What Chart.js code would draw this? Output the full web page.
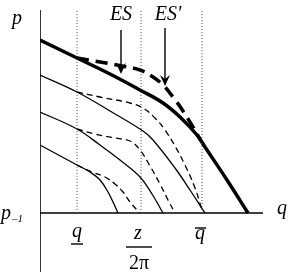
<!DOCTYPE html>
<html>
<head>
<meta charset="utf-8">
<script src="https://cdn.jsdelivr.net/npm/chart.js@4.4.1/dist/chart.umd.min.js"></script>
<style>
	html, body { margin: 0; padding: 0; background: #fff; }
	#box { width: 296px; height: 276px; }
</style>
</head>
<body>
<div id="box"><canvas id="grafico"></canvas></div>
<script>
// eixos (unidades do grafico)
var x_min = 0, x_max = 11.15;
var y_min = -2.95, y_max = 10.15;

// marcas no eixo q: q_, z/2pi, q barra
var marcas_q = [1.85, 5.05, 8.1];

// curva grossa ES e tracejada ES'
var curva_ES = [[0, 8.65], [1.85, 7.75], [3.5, 6.95], [5.0, 6.15], [6.15, 5.5], [7.0, 4.8], [7.85, 3.9], [8.25, 3.3], [9.35, 1.65], [10.4, 0]];
var curva_ES2 = [[1.85, 7.75], [3.0, 7.55], [4.1, 7.35], [5.0, 7.15], [5.65, 6.8], [6.15, 6.4], [6.65, 5.8], [7.15, 5.1], [7.65, 4.3], [8.05, 3.6]];

// curvas finas
var fina_1 = [[0, 6.9], [1.85, 6.05], [3.5, 5.1], [5.15, 4.1], [5.65, 3.65], [6.75, 2.25], [7.5, 1.15], [8.25, 0]];
var trac_1 = [[1.85, 6.05], [3.0, 5.8], [4.5, 5.5], [5.15, 5.25], [5.75, 4.75], [6.25, 4.15], [6.75, 3.35], [7.25, 2.4], [7.75, 1.25], [8.1, 0.15]];
var fina_2 = [[0, 5.05], [1.85, 4.2], [3.0, 3.4], [4.0, 2.65], [5.0, 1.8], [5.6, 0.95], [6.15, 0]];
var trac_2 = [[1.85, 4.2], [2.75, 3.95], [3.75, 3.75], [4.5, 3.6], [5.0, 3.15], [5.5, 2.35], [6.0, 1.45], [6.4, 0.65], [6.75, 0]];
var fina_3 = [[0, 3.4], [1.85, 2.4], [2.5, 2.05], [3.0, 1.65], [3.4, 1.05], [3.65, 0.55], [3.9, 0]];
var trac_3 = [[1.85, 2.4], [2.6, 2.05], [3.25, 1.8], [3.75, 1.45], [4.15, 1.05], [4.5, 0.55], [4.85, 0.15], [5.0, 0]];

// setas: x, y inicio, y ponta
var setas = [[4.05, 9.15, 6.95, "ES"], [6.25, 9.25, 6.35, "ES'"]];

function pontos(lista) {
	return lista.map(function (p) { return { x: p[0], y: p[1] }; });
}

function linha(lista, largura, tracos, cor) {
	return {
		data: pontos(lista),
		showLine: true,
		borderColor: cor || "#000",
		borderWidth: largura,
		borderDash: tracos || [],
		pointRadius: 0,
		fill: false,
		tension: 0.4,
	};
}

var datasets = [];
// linhas pontilhadas verticais
marcas_q.forEach(function (m) {
	datasets.push(linha([[m, 0], [m, 10.15]], 1, [1, 2], "#444"));
});
datasets.push(linha([[x_min, 0], [x_max, 0]], 1.6));
datasets.push(linha([[0, y_min], [0, y_max]], 1.6));
datasets.push(linha(fina_3, 1.3));
datasets.push(linha(trac_3, 1.3, [6, 4]));
datasets.push(linha(fina_2, 1.3));
datasets.push(linha(trac_2, 1.3, [6, 4]));
datasets.push(linha(fina_1, 1.3));
datasets.push(linha(trac_1, 1.3, [6, 4]));
datasets.push(linha(curva_ES, 3.5));
datasets.push(linha(curva_ES2, 3.5, [12, 7]));

var fonte = "'Liberation Serif', 'Times New Roman', serif";

var textos = {
	id: "textos",
	afterDatasetsDraw: function (chart) {
		var ctx = chart.ctx;
		var sx = chart.scales.x, sy = chart.scales.y;
		var x0 = sx.getPixelForValue(0), y0 = sy.getPixelForValue(0);
		ctx.save();
		ctx.fillStyle = "#000";
		ctx.strokeStyle = "#000";

		// setas
		setas.forEach(function (s) {
			var px = sx.getPixelForValue(s[0]);
			var ya = sy.getPixelForValue(s[1]);
			var yb = sy.getPixelForValue(s[2]);
			ctx.lineWidth = 1.4;
			ctx.beginPath();
			ctx.moveTo(px, ya);
			ctx.lineTo(px, yb - 4);
			ctx.stroke();
			ctx.beginPath();
			ctx.moveTo(px, yb);
			ctx.lineTo(px - 5, yb - 11);
			ctx.lineTo(px, yb - 7);
			ctx.lineTo(px + 5, yb - 11);
			ctx.closePath();
			ctx.fill();
			ctx.font = "italic 20px " + fonte;
			ctx.textAlign = "center";
			ctx.textBaseline = "alphabetic";
			ctx.fillText(s[3], px + (s[3] == "ES" ? 0 : 3), 20);
		});

		ctx.font = "italic 20px " + fonte;
		ctx.textAlign = "center";
		ctx.fillText("p", x0 - 23, 24);
		ctx.fillText("q", sx.getPixelForValue(x_max) + 19, y0 + 1);

		// p_-1
		ctx.textAlign = "left";
		ctx.fillText("p", 1, y0 + 6);
		ctx.font = "italic 11px " + fonte;
		ctx.fillText("\u20131", 12, y0 + 9);

		// q sublinhado
		ctx.font = "italic 20px " + fonte;
		ctx.textAlign = "center";
		var m1 = sx.getPixelForValue(marcas_q[0]);
		ctx.fillText("q", m1, y0 + 24);
		ctx.lineWidth = 1.4;
		ctx.beginPath();
		ctx.moveTo(m1 - 6, y0 + 31);
		ctx.lineTo(m1 + 6, y0 + 31);
		ctx.stroke();

		// z / 2pi
		var m2 = sx.getPixelForValue(marcas_q[1]);
		ctx.fillText("z", m2 - 3, y0 + 26);
		ctx.beginPath();
		ctx.moveTo(m2 - 15, y0 + 34);
		ctx.lineTo(m2 + 11, y0 + 34);
		ctx.stroke();
		ctx.font = "20px " + fonte;
		ctx.fillText("2\u03c0", m2 - 2, y0 + 56);

		// q barra
		ctx.font = "italic 20px " + fonte;
		var m3 = sx.getPixelForValue(marcas_q[2]);
		ctx.fillText("q", m3 - 2, y0 + 26);
		ctx.beginPath();
		ctx.moveTo(m3 - 7, y0 + 15);
		ctx.lineTo(m3 + 4, y0 + 15);
		ctx.stroke();
		ctx.restore();
	},
};

var grafico = new Chart(document.getElementById("grafico"), {
	type: "scatter",
	data: { datasets: datasets },
	options: {
		responsive: true,
		maintainAspectRatio: false,
		animation: false,
		layout: { padding: { left: 40, right: 33, top: 10, bottom: 4 } },
		scales: {
			x: { type: "linear", min: x_min, max: x_max, display: false },
			y: { type: "linear", min: y_min, max: y_max, display: false },
		},
		plugins: {
			legend: { display: false },
			tooltip: { enabled: false },
		},
	},
	plugins: [textos],
});
</script>
</body>
</html>
